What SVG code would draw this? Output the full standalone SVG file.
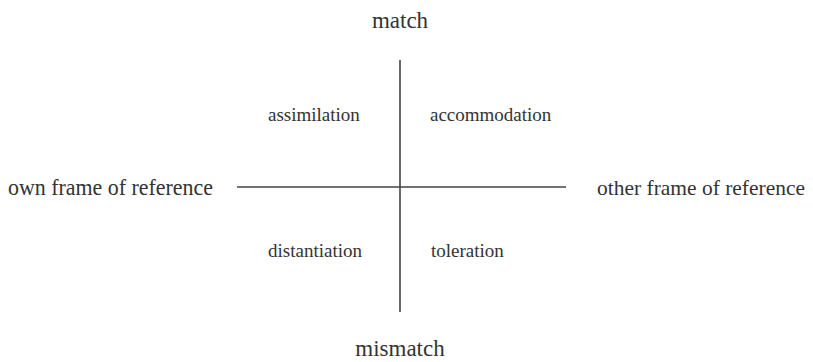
<svg xmlns="http://www.w3.org/2000/svg" width="813" height="362" viewBox="0 0 813 362">
<style>
.big{font-family:"Liberation Serif","Times New Roman",serif;font-size:23px;fill:#333}
.sm{font-family:"Liberation Serif","Times New Roman",serif;font-size:19px;fill:#333}
.ax{stroke:#444;stroke-width:1.6;fill:none}
</style>
<rect width="813" height="362" fill="#fff"/>
<g id="connectors">
<line class="ax" x1="400" y1="60" x2="400" y2="312"/>
<line class="ax" x1="237" y1="187" x2="566" y2="187"/>
</g>
<g id="match"><text class="big" x="400" y="28" text-anchor="middle">match</text></g>
<g id="mismatch"><text class="big" x="400" y="356" text-anchor="middle">mismatch</text></g>
<g id="own"><text class="big" x="8" y="195" textLength="205" lengthAdjust="spacingAndGlyphs">own frame of reference</text></g>
<g id="other"><text class="big" x="597" y="195" style="font-size:22px" textLength="208" lengthAdjust="spacingAndGlyphs">other frame of reference</text></g>
<g id="assimilation"><text class="sm" x="268" y="121">assimilation</text></g>
<g id="accommodation"><text class="sm" x="430" y="121">accommodation</text></g>
<g id="distantiation"><text class="sm" x="268" y="257">distantiation</text></g>
<g id="toleration"><text class="sm" x="431" y="257">toleration</text></g>
</svg>
